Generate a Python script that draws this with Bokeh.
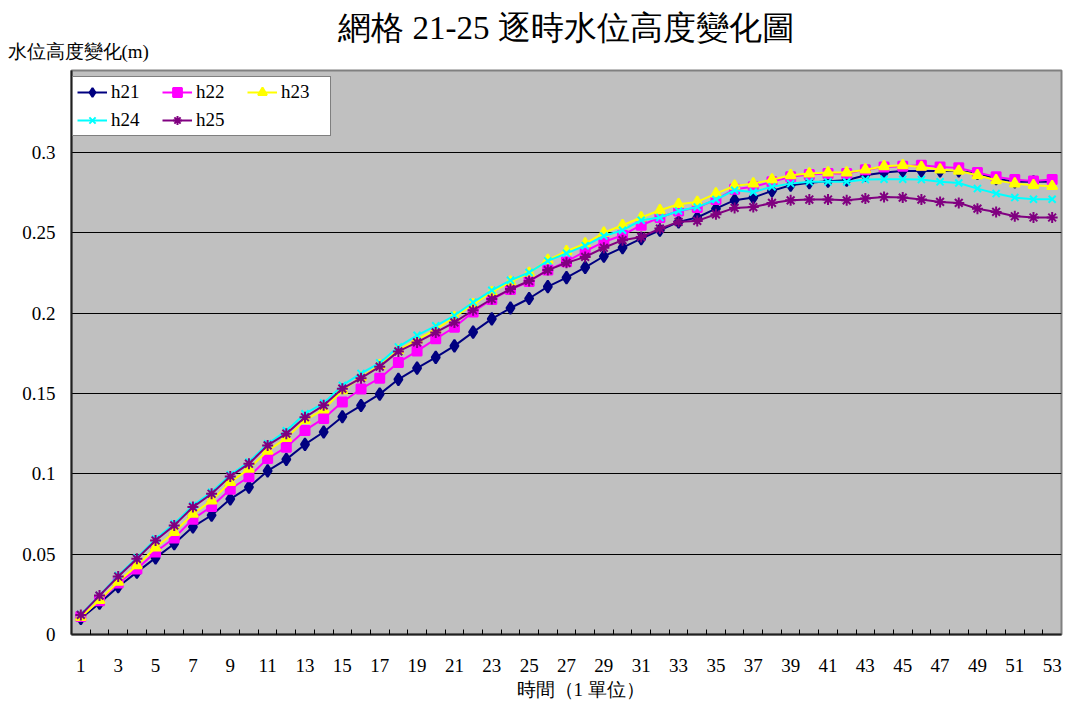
from bokeh.plotting import figure
from bokeh.models import (ColumnDataSource, Range1d, FixedTicker, Legend, LegendItem, Title)
from bokeh.embed import file_html
from bokeh.resources import INLINE

# time steps
steps = list(range(1, 54))

h21 = [0.0100, 0.0195, 0.0297, 0.0388, 0.0477, 0.0565, 0.0670, 0.0742, 0.0843, 0.0917,
       0.1018, 0.1090, 0.1183, 0.1260, 0.1355, 0.1425, 0.1496, 0.1588, 0.1658, 0.1725,
       0.1796, 0.1882, 0.1964, 0.2032, 0.2091, 0.2165, 0.2221, 0.2285, 0.2354, 0.2408,
       0.2464, 0.2516, 0.2568, 0.2595, 0.2650, 0.2703, 0.2719, 0.2761, 0.2796, 0.2812,
       0.2821, 0.2827, 0.2858, 0.2875, 0.2885, 0.2885, 0.2885, 0.2885, 0.2869, 0.2837,
       0.2817, 0.2817, 0.2817]
h22 = [0.0112, 0.0210, 0.0320, 0.0407, 0.0513, 0.0601, 0.0718, 0.0797, 0.0904, 0.0982,
       0.1095, 0.1166, 0.1270, 0.1345, 0.1447, 0.1528, 0.1595, 0.1693, 0.1764, 0.1840,
       0.1912, 0.2007, 0.2085, 0.2147, 0.2197, 0.2268, 0.2320, 0.2385, 0.2443, 0.2485,
       0.2547, 0.2595, 0.2636, 0.2657, 0.2707, 0.2771, 0.2786, 0.2817, 0.2848, 0.2862,
       0.2869, 0.2869, 0.2893, 0.2910, 0.2914, 0.2920, 0.2910, 0.2904, 0.2875, 0.2848,
       0.2831, 0.2823, 0.2831]
h23 = [0.0108, 0.0214, 0.0328, 0.0430, 0.0540, 0.0637, 0.0750, 0.0834, 0.0948, 0.1031,
       0.1143, 0.1222, 0.1334, 0.1400, 0.1520, 0.1600, 0.1675, 0.1768, 0.1835, 0.1898,
       0.1975, 0.2055, 0.2130, 0.2195, 0.2250, 0.2330, 0.2385, 0.2433, 0.2500, 0.2547,
       0.2595, 0.2640, 0.2678, 0.2692, 0.2744, 0.2792, 0.2806, 0.2831, 0.2858, 0.2869,
       0.2875, 0.2875, 0.2893, 0.2914, 0.2920, 0.2910, 0.2893, 0.2885, 0.2858, 0.2827,
       0.2806, 0.2796, 0.2790]
h24 = [0.0125, 0.0243, 0.0368, 0.0477, 0.0594, 0.0689, 0.0803, 0.0886, 0.0994, 0.1073,
       0.1187, 0.1268, 0.1374, 0.1440, 0.1550, 0.1625, 0.1690, 0.1790, 0.1862, 0.1921,
       0.1985, 0.2067, 0.2142, 0.2204, 0.2253, 0.2325, 0.2372, 0.2420, 0.2480, 0.2516,
       0.2578, 0.2595, 0.2636, 0.2660, 0.2707, 0.2765, 0.2754, 0.2786, 0.2806, 0.2817,
       0.2817, 0.2817, 0.2831, 0.2833, 0.2833, 0.2831, 0.2817, 0.2810, 0.2775, 0.2744,
       0.2719, 0.2709, 0.2709]
h25 = [0.0122, 0.0242, 0.0361, 0.0471, 0.0585, 0.0679, 0.0793, 0.0876, 0.0984, 0.1063,
       0.1177, 0.1250, 0.1352, 0.1426, 0.1530, 0.1595, 0.1667, 0.1762, 0.1818, 0.1880,
       0.1942, 0.2018, 0.2088, 0.2150, 0.2200, 0.2268, 0.2313, 0.2350, 0.2407, 0.2454,
       0.2474, 0.2526, 0.2568, 0.2574, 0.2615, 0.2655, 0.2660, 0.2686, 0.2702, 0.2707,
       0.2707, 0.2702, 0.2713, 0.2723, 0.2719, 0.2707, 0.2692, 0.2686, 0.2650, 0.2630,
       0.2603, 0.2595, 0.2595]

y_ticks = [0, 0.05, 0.1, 0.15, 0.2, 0.25, 0.3]
y_tick_labels = ["0", "0.05", "0.1", "0.15", "0.2", "0.25", "0.3"]
x_tick_labels = list(range(1, 54, 2))

title_text = "網格 21-25 逐時水位高度變化圖"
y_label_text = "水位高度變化(m)"
x_label_text = "時間（1 單位）"

SERIF = "Times New Roman"

src = ColumnDataSource(dict(x=steps, h21=h21, h22=h22, h23=h23, h24=h24, h25=h25))

p = figure(width=1069, height=704, output_backend="svg", toolbar_location=None,
           x_range=Range1d(0.5, 53.5), y_range=Range1d(0, 0.351),
           min_border_left=71, min_border_right=8, min_border_top=70, min_border_bottom=70,
           border_fill_color="white")
p.background_fill_color = "#C0C0C0"
p.outline_line_color = "#808080"
p.outline_line_width = 2

# axes
p.xaxis.ticker = FixedTicker(ticks=x_tick_labels, minor_ticks=[k + 0.5 for k in range(1, 53)])
p.xaxis.major_tick_line_color = None
p.xaxis.minor_tick_in = 5
p.xaxis.minor_tick_out = 0
p.xaxis.minor_tick_line_color = "black"
p.xaxis.axis_line_color = "#202020"
p.xaxis.axis_line_width = 2
p.xaxis.major_label_standoff = 18
p.xaxis.major_label_text_font = SERIF
p.xaxis.major_label_text_font_size = "19px"
p.xaxis.major_label_text_color = "black"

p.yaxis.ticker = FixedTicker(ticks=y_ticks)
p.yaxis.major_label_overrides = {t: s for t, s in zip(y_ticks, y_tick_labels)}
p.yaxis.major_tick_line_color = None
p.yaxis.minor_tick_line_color = None
p.yaxis.axis_line_color = "#202020"
p.yaxis.axis_line_width = 2
p.yaxis.major_label_standoff = 10
p.yaxis.major_label_text_font = SERIF
p.yaxis.major_label_text_font_size = "19px"
p.yaxis.major_label_text_color = "black"

p.xgrid.grid_line_color = None
p.ygrid.ticker = FixedTicker(ticks=y_ticks[1:])
p.ygrid.grid_line_color = "black"
p.ygrid.grid_line_width = 1

# series
specs = [
    ("h21", "#000080", "diamond", 12),
    ("h22", "#FF00FF", "square", 9),
    ("h23", "#FFFF00", "triangle", 10),
    ("h24", "#00FFFF", "x", 10),
    ("h25", "#800080", "asterisk", 11),
]
items = {}
for name, color, marker, size in specs:
    ln = p.line("x", name, source=src, line_color=color, line_width=2)
    sc = p.scatter("x", name, source=src, marker=marker, size=size,
                   fill_color=color, line_color=color, line_width=2)
    items[name] = LegendItem(label=name, renderers=[ln, sc])

# the legend fills column by column: h21/h24, h22/h25, h23
legend_order = ["h21", "h24", "h22", "h25", "h23"]
legend = Legend(items=[items[n] for n in legend_order], ncols=3, location=(1, 498),
                padding=4, spacing=6, margin=0,
                glyph_width=30, glyph_height=22, label_standoff=4,
                label_width=45, label_height=22,
                label_text_font=SERIF, label_text_font_size="19px",
                label_text_color="black",
                border_line_color="black", border_line_width=1,
                background_fill_color="white", background_fill_alpha=1)
p.add_layout(legend, "center")

# axis captions and heading
p.add_layout(Title(text=y_label_text, align="left", offset=-64, standoff=17,
                   text_font=SERIF, text_font_size="19px", text_font_style="normal",
                   text_color="black"), "above")
p.add_layout(Title(text=title_text, align="center", standoff=-31,
                   text_font=SERIF, text_font_size="33px", text_font_style="normal",
                   text_color="black"), "above")
p.add_layout(Title(text=x_label_text, align="left", offset=445, standoff=4,
                   text_font=SERIF, text_font_size="19px", text_font_style="normal",
                   text_color="black"), "below")

open("out.html", "w").write(file_html(p, INLINE))
